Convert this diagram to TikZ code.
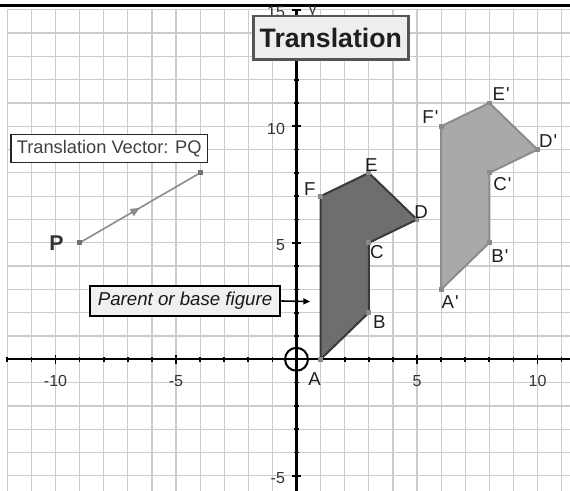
\documentclass[tikz,border=0pt]{standalone}
\usepackage{fontspec}
\setmainfont{Liberation Sans}
\usetikzlibrary{arrows.meta,decorations.markings}
\definecolor{gridc}{HTML}{CCCCCC}
\definecolor{axc}{HTML}{333333}
\definecolor{parfill}{HTML}{6E6E6E}
\definecolor{paredge}{HTML}{3A3A3A}
\definecolor{imgfill}{HTML}{A9A9A9}
\definecolor{imgedge}{HTML}{8C8C8C}
\definecolor{vtxc}{HTML}{8A8A8A}
\definecolor{vecc}{HTML}{8C8C8C}
\definecolor{titleedge}{HTML}{555555}
\definecolor{titlefill}{HTML}{EEEEEE}
\definecolor{boxfill}{HTML}{F0F0F0}
\begin{document}
\begin{tikzpicture}[x=0.75pt,y=-0.75pt,
  gridline/.style={draw=gridc, line width=0.9pt},
  axisline/.style={draw=black, line width=1.6pt},
  tickmark/.style={draw=black, line width=1.3pt},
  axlbl/.style={font=\fontsize{12}{14}\selectfont, text=axc, inner sep=0pt},
  vlbl/.style={font=\fontsize{14}{16}\selectfont, text=black!88, inner sep=0pt},
  vtx/.style={rectangle, fill=vtxc, minimum size=3.6pt, inner sep=0pt},
  parentfig/.style={fill=parfill, draw=paredge, line width=1.5pt, line join=round},
  imagefig/.style={fill=imgfill, draw=imgedge, line width=1.5pt, line join=round},
  vecline/.style={draw=vecc, line width=1.2pt,
    postaction={decorate, decoration={markings,
      mark=at position 0.5 with {\arrow[vecc]{Triangle[length=7pt,width=6pt]}}}}},
  originring/.style={circle, draw=black, line width=1.5pt, minimum size=17.2pt, inner sep=0pt},
  titlebox/.style={draw=titleedge, fill=titlefill, line width=2.2pt,
    minimum width=116.25pt, minimum height=32.5pt, inner sep=0pt,
    font=\fontsize{20}{24}\selectfont\bfseries, text=black!88},
  vecbox/.style={draw=black!85, fill=white, line width=0.9pt,
    minimum width=147.2pt, minimum height=21.3pt, inner sep=0pt,
    font=\fontsize{13.7}{16}\selectfont, text=black!75},
  parentbox/.style={draw=black, fill=boxfill, line width=2pt,
    minimum width=142.5pt, minimum height=22.5pt, inner sep=0pt,
    font=\fontsize{14}{16}\selectfont\itshape, text=black!90},
  pointer/.style={draw=black, line width=1.2pt, -{Triangle[length=5pt,width=4.5pt]}}
]
\useasboundingbox (0,0) rectangle (570,491);
\fill[white] (0,0) rectangle (570,491);
\draw[black, line width=1.9pt] (0,5.3) -- (570,5.3);

\begin{scope}[shift={(296.5,359.3)}, x=18.075pt, y=17.475pt]
  % grid
  \foreach \gy in {-5,...,15} \draw[gridline] (-12,\gy) -- (11.36,\gy);
  \foreach \gx in {-12,...,11} \draw[gridline] (\gx,-5.66) -- (\gx,15);
  % axes
  \draw[axisline] (-12,0) -- (11.36,0);
  \draw[axisline] (0,-5.66) -- (0,15);
  \foreach \tx in {-12,...,11} \draw[tickmark] (\tx,0) +(0,-2pt) -- +(0,2pt);
  \foreach \tx in {-10,-5,5,10} \draw[tickmark] (\tx,0) +(0,-3.6pt) -- +(0,3.6pt);
  \foreach \ty in {-5,...,15} \draw[tickmark] (0,\ty) +(-2pt,0) -- +(2pt,0);
  \foreach \ty in {-5,5,10,15} \draw[tickmark] (0,\ty) +(-3.6pt,0) -- +(3.6pt,0);
  % axis labels
  \node[axlbl] (lxa) at ([yshift=-16pt]-10,0) {-10};
  \node[axlbl] (lxb) at ([yshift=-16pt]-5,0) {-5};
  \node[axlbl] (lxc) at ([yshift=-16pt]5,0) {5};
  \node[axlbl] (lxd) at ([yshift=-16pt]10,0) {10};
  \node[axlbl, anchor=east] (lya) at ([xshift=-8.5pt,yshift=-2pt]0,-5) {-5};
  \node[axlbl, anchor=east] (lyb) at ([xshift=-8.5pt,yshift=-2pt]0,5) {5};
  \node[axlbl, anchor=east] (lyc) at ([xshift=-8.5pt,yshift=-2pt]0,10) {10};
  \node[axlbl, anchor=east] (lyd) at ([xshift=-8.5pt,yshift=-1.5pt]0,15) {15};
  \node[axlbl] (lyname) at ([xshift=12pt,yshift=-1.5pt]0,15) {y};
  \node[originring] (O) at (0,0) {};

  % parent figure
  \coordinate (A) at (1,0);
  \coordinate (B) at (3,2);
  \coordinate (C) at (3,5);
  \coordinate (D) at (5,6);
  \coordinate (E) at (3,8);
  \coordinate (F) at (1,7);
  \draw[parentfig] (A) -- (B) -- (C) -- (D) -- (E) -- (F) -- cycle;
  % image figure
  \coordinate (Ap) at (6,3);
  \coordinate (Bp) at (8,5);
  \coordinate (Cp) at (8,8);
  \coordinate (Dp) at (10,9);
  \coordinate (Ep) at (8,11);
  \coordinate (Fp) at (6,10);
  \draw[imagefig] (Ap) -- (Bp) -- (Cp) -- (Dp) -- (Ep) -- (Fp) -- cycle;
  \foreach \v in {A,B,C,D,E,F,Ap,Bp,Cp,Dp,Ep,Fp} \node[vtx] (m\v) at (\v) {};

  % vertex labels
  \node[vlbl] (lA) at ([shift={(-4.5pt,-15pt)}]A) {A};
  \node[vlbl] (lB) at ([shift={(8pt,-6.75pt)}]B) {B};
  \node[vlbl] (lC) at ([shift={(6pt,-7.3pt)}]C) {C};
  \node[vlbl] (lD) at ([shift={(3pt,5.25pt)}]D) {D};
  \node[vlbl] (lE) at ([shift={(1.9pt,6.15pt)}]E) {E};
  \node[vlbl] (lF) at ([shift={(-8pt,5.25pt)}]F) {F};
  \node[vlbl] (lAp) at ([shift={(6.75pt,-9.2pt)}]Ap) {A\kern0.8pt\textquotesingle};
  \node[vlbl] (lBp) at ([shift={(8pt,-9.75pt)}]Bp) {B\kern0.8pt\textquotesingle};
  \node[vlbl] (lCp) at ([shift={(9.75pt,-8.5pt)}]Cp) {C\kern0.8pt\textquotesingle};
  \node[vlbl] (lDp) at ([shift={(8pt,6.6pt)}]Dp) {D\kern0.8pt\textquotesingle};
  \node[vlbl] (lEp) at ([shift={(8.8pt,7pt)}]Ep) {E\kern0.8pt\textquotesingle};
  \node[vlbl] (lFp) at ([shift={(-8pt,7pt)}]Fp) {F\kern0.8pt\textquotesingle};

  % translation vector
  \coordinate (P) at (-9,5);
  \coordinate (Q) at (-4,8);
  \draw[vecline] (P) -- (Q);
  \node[vtx, fill=black!55] (mP) at (P) {};
  \node[vtx, fill=black!55] (mQ) at (Q) {};
  \node[font=\fontsize{16}{18}\selectfont\bfseries, text=black!80, inner sep=0pt] (lP) at ([xshift=-17.3pt]P) {P};
\end{scope}

% callout boxes
\node[vecbox] (vecnote) at (109.2,148.5) {Translation Vector: PQ};
\node[parentbox] (parentnote) at (185,301) {Parent or base figure};
\coordinate (parentTip) at (310,301.5);
\draw[pointer] (parentnote.east) -- (parentTip);
\node[titlebox] (title) at (330.8,37.65) {Translation};
\end{tikzpicture}
\end{document}
